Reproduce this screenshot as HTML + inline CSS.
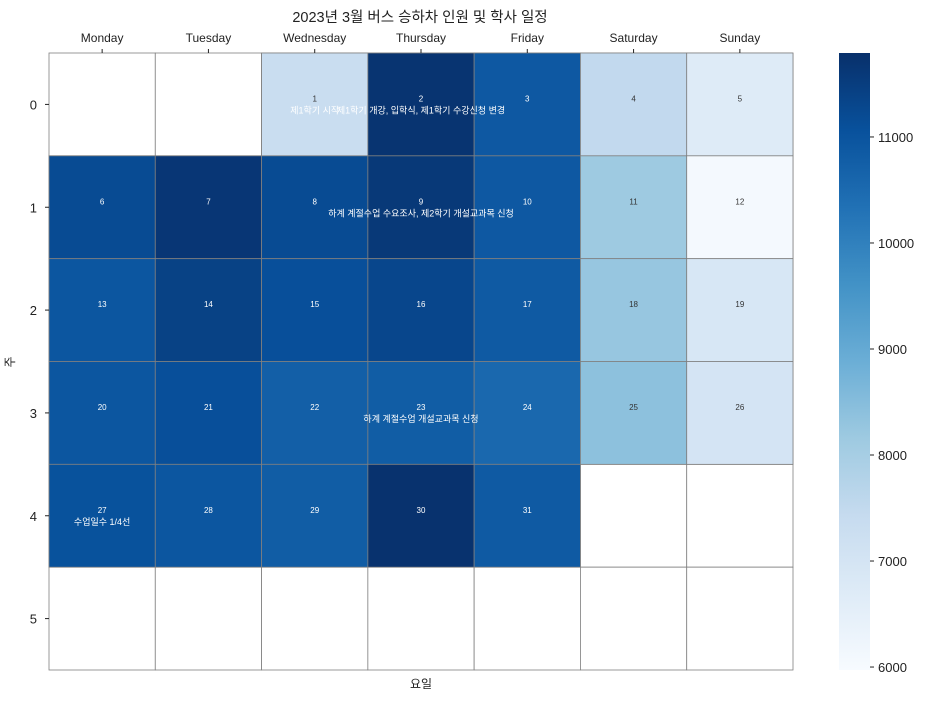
<!DOCTYPE html>
<html><head><meta charset="utf-8">
<style>
html,body{margin:0;padding:0;background:#fff;}
svg text{font-family:"Liberation Sans","Noto Sans CJK KR",sans-serif;}
</style></head>
<body>
<svg id="chart" width="937" height="700" viewBox="0 0 937 700" xmlns="http://www.w3.org/2000/svg">
<defs>
<linearGradient id="cbgrad" x1="0" y1="1" x2="0" y2="0">
<stop offset="0" stop-color="#f7fbff"/><stop offset="0.125" stop-color="#deebf7"/><stop offset="0.25" stop-color="#c6dbef"/><stop offset="0.375" stop-color="#9ecae1"/><stop offset="0.5" stop-color="#6baed6"/><stop offset="0.625" stop-color="#4292c6"/><stop offset="0.75" stop-color="#2171b5"/><stop offset="0.875" stop-color="#08519c"/><stop offset="1" stop-color="#08306b"/>
</linearGradient>
</defs>
<text x="420" y="22" font-size="14.5" text-anchor="middle" fill="#222">2023년 3월 버스 승하차 인원 및 학사 일정</text>
<text x="421" y="688" font-size="12" text-anchor="middle" fill="#222">요일</text>
<text x="14" y="362" font-size="12" text-anchor="middle" fill="#222" transform="rotate(-90 14 362)">주</text>
<g id="cells"></g>
<g id="labels"></g>
<rect x="839" y="53" width="31" height="617" fill="url(#cbgrad)"/>
<g id="cbticks"></g>
</svg>
<script>
const days = ["Monday","Tuesday","Wednesday","Thursday","Friday","Saturday","Sunday"];
const weeks = ["0","1","2","3","4","5"];
const dayNumbers = [1,2,3,4,5,6,7,8,9,10,11,12,13,14,15,16,17,18,19,20,21,22,23,24,25,26,27,28,29,30,31];
const riders = [7350,11700,10900,7500,6700,11200,11650,11200,11600,10900,8150,6050,10950,11400,11100,11300,10850,8250,6900,10950,11100,10750,10800,10550,8400,7000,11050,10950,10800,11750,10850];
const eventDays = [1,2,9,23,27];
const eventTexts = ["제1학기 시작","제1학기 개강, 입학식, 제1학기 수강신청 변경","하계 계절수업 수요조사, 제2학기 개설교과목 신청","하계 계절수업 개설교과목 신청","수업일수 1/4선"];
const cbTicks = [6000,7000,8000,9000,10000,11000];
const firstWeekday = 2; // March 1, 2023 = Wednesday

const X0=49, X1=793, Y0=53, Y1=670;
const cw=(X1-X0)/days.length, ch=(Y1-Y0)/weeks.length;
const VMIN=5972, VMAX=11792;
const xPos=c=>X0+c*cw, yPos=r=>Y0+r*ch;
const cbY=v=>Y1-(v-VMIN)/(VMAX-VMIN)*(Y1-Y0);
const stops=[[247,251,255],[222,235,247],[198,219,239],[158,202,225],[107,174,214],[66,146,198],[33,113,181],[8,81,156],[8,48,107]];
function color(v){let t=Math.max(0,Math.min(1,(v-VMIN)/(VMAX-VMIN)))*8;let i=Math.min(7,Math.floor(t)),f=t-i;
const a=stops[i],b=stops[i+1];return `rgb(${a.map((x,k)=>Math.round(x+(b[k]-x)*f)).join(',')})`;}
const NS="http://www.w3.org/2000/svg";
const cells=document.getElementById('cells'), labels=document.getElementById('labels'), cbt=document.getElementById('cbticks');
function mk(tag,attrs,parent){const e=document.createElementNS(NS,tag);for(const k in attrs)e.setAttribute(k,attrs[k]);parent.appendChild(e);return e;}

for(let r=0;r<weeks.length;r++)for(let c=0;c<days.length;c++){
  const e=mk('rect',{x:xPos(c),y:yPos(r),width:cw,height:ch,fill:'#fff',stroke:'#808080','stroke-width':0.8},cells);
  
  
}
dayNumbers.forEach((d,i)=>{
  const idx=d-1+firstWeekday, r=Math.floor(idx/7), c=idx%7, v=riders[i];
  const e=mk('rect',{x:xPos(c),y:yPos(r),width:cw,height:ch,fill:color(v),stroke:'#808080','stroke-width':0.8},cells);
  
  
  const dark=(v-VMIN)/(VMAX-VMIN)>0.5;
  const t=mk('text',{x:xPos(c)+cw/2,y:yPos(r)+ch/2-3,'font-size':8,'text-anchor':'middle',fill:dark?'#fff':'#333'},labels);
  t.textContent=d;
  
  
});
eventDays.forEach((d,i)=>{
  const idx=d-1+firstWeekday, r=Math.floor(idx/7), c=idx%7;
  const t=mk('text',{x:xPos(c)+cw/2,y:yPos(r)+ch/2+9,'font-size':9,'text-anchor':'middle',fill:'#fff'},labels);
  t.textContent=eventTexts[i];
  
  
});
days.forEach((d,c)=>{
  mk('line',{x1:xPos(c)+cw/2,x2:xPos(c)+cw/2,y1:Y0,y2:Y0-4,stroke:'#222'},labels);
  const t=mk('text',{x:xPos(c)+cw/2,y:Y0-11,'font-size':12,'text-anchor':'middle',fill:'#222'},labels);
  t.textContent=d;
  
  
});
weeks.forEach((w,r)=>{
  mk('line',{x1:X0,x2:X0-4,y1:yPos(r)+ch/2,y2:yPos(r)+ch/2,stroke:'#222'},labels);
  const t=mk('text',{x:X0-12,y:yPos(r)+ch/2+5,'font-size':13,'text-anchor':'end',fill:'#222'},labels);
  t.textContent=w;
  
  
});
cbTicks.forEach(v=>{
  const y=cbY(v);
  mk('line',{x1:870,x2:874,y1:y,y2:y,stroke:'#222'},cbt);
  const t=mk('text',{x:878,y:y+5,'font-size':13,fill:'#222'},cbt);
  t.textContent=v;
  
  
});
</script>
</body></html>
